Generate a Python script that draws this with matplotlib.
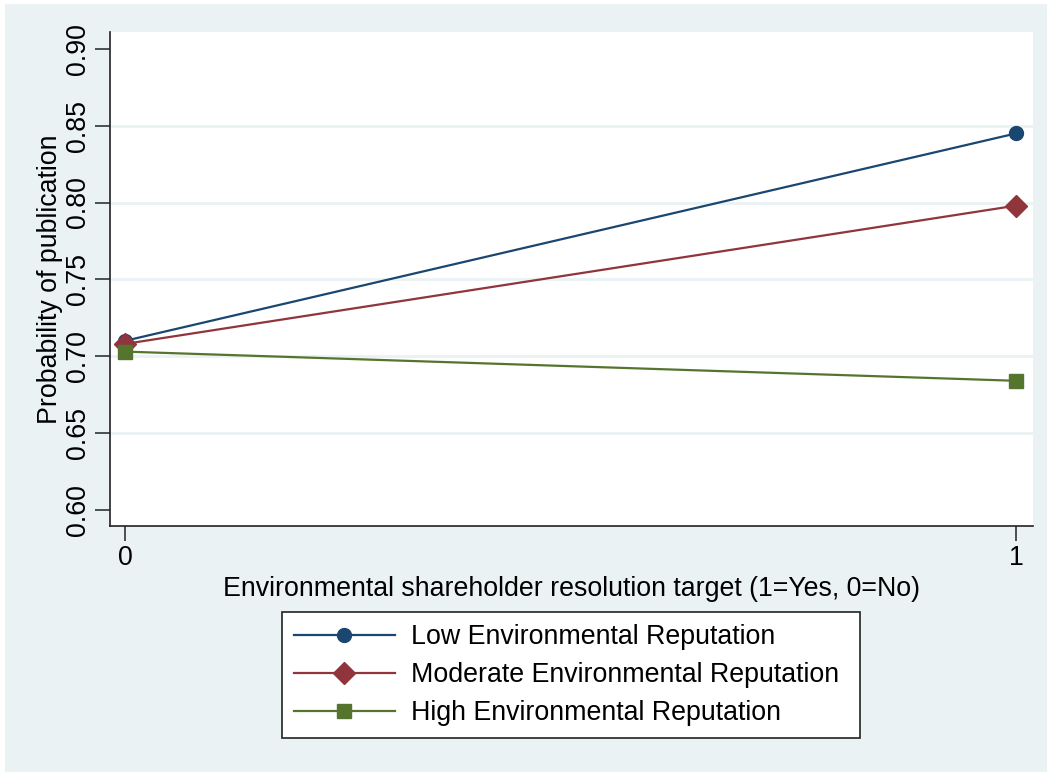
import matplotlib
matplotlib.use("Agg")
import matplotlib.pyplot as plt
from matplotlib.patches import Rectangle

x_vals = [0, 1]
low_rep = [0.710, 0.845]
moderate_rep = [0.708, 0.798]
high_rep = [0.703, 0.684]
series_labels = ["Low Environmental Reputation",
                 "Moderate Environmental Reputation",
                 "High Environmental Reputation"]
y_ticks = [0.60, 0.65, 0.70, 0.75, 0.80, 0.85, 0.90]
x_ticks = [0, 1]

plt.rcParams['font.family'] = ['Liberation Sans', 'DejaVu Sans']

W, H = 1047, 772
fig = plt.figure(figsize=(W / 100, H / 100), dpi=100, facecolor='white')
bg = '#EAF2F3'
fig.patches.append(Rectangle((5 / W, 0), 1 - 5 / W, 1 - 4 / H, transform=fig.transFigure,
                             facecolor=bg, edgecolor='none', zorder=-10))

ax = fig.add_axes([110 / W, 1 - 526 / H, (1033 - 110) / W, (526 - 32) / H])
ax.set_facecolor('white')

colors = ['#1A476F', '#90353B', '#55752F']
markers = ['o', 'D', 's']
msizes = [10, 11, 10]
for ys, c, m, ms, lab in zip([low_rep, moderate_rep, high_rep], colors, markers, msizes, series_labels):
    ax.plot(x_vals, ys, color=c, marker=m, markersize=ms, linewidth=1.6, label=lab, zorder=3)

ax.set_xlim(-0.0168, 1.019)
ax.set_ylim(0.5895, 0.911)
ax.set_yticks(y_ticks)
ax.set_yticklabels([f"{v:.2f}" for v in y_ticks], rotation=90, va='center')
ax.set_xticks(x_ticks)
ax.set_xticklabels([str(v) for v in x_ticks])
for v in y_ticks[1:-1]:
    ax.axhline(v, color=bg, linewidth=2, zorder=1)

for s in ['top', 'right']:
    ax.spines[s].set_visible(False)
for s in ['left', 'bottom']:
    ax.spines[s].set_color('#222222')
    ax.spines[s].set_linewidth(1.2)
ax.tick_params(axis='both', labelsize=19.3, length=11, width=1.2, color='#333333')
ax.tick_params(axis='y', pad=3)
ax.tick_params(axis='x', pad=3)

ax.set_ylabel("Probability of publication", fontsize=19.3, labelpad=1)
ax.set_xlabel("Environmental shareholder resolution target (1=Yes, 0=No)", fontsize=19.3, labelpad=3)

leg = fig.legend(loc='center left', bbox_to_anchor=(282 / W, 1 - 675 / H), fontsize=19.3,
                 frameon=False, handlelength=3.75, handletextpad=0.62,
                 labelspacing=0.45, borderpad=0.45, borderaxespad=0)
# Stata-style legend frame: extra padding on the right side
fig.canvas.draw()
bb = leg.get_window_extent()
fig.patches.append(Rectangle((bb.x0, bb.y0), bb.width + 9, bb.height, transform=None,
                             facecolor='white', edgecolor='#222222', linewidth=1.2, zorder=-5))

fig.savefig("out.png", dpi=100, facecolor=fig.get_facecolor())
